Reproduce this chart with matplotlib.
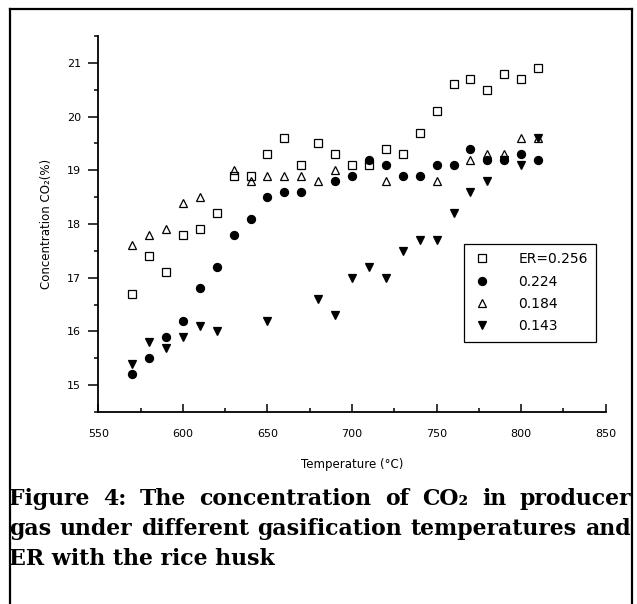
import numpy as np
import matplotlib
matplotlib.use("Agg")
import matplotlib.pyplot as plt
from matplotlib.lines import Line2D

# ER = 0.256 (open squares)
t_256 = [570, 580, 590, 600, 610, 620, 630, 640, 650, 660, 670, 680, 690,
         700, 710, 720, 730, 740, 750, 760, 770, 780, 790, 800, 810]
c_256 = [16.7, 17.4, 17.1, 17.8, 17.9, 18.2, 18.9, 18.9, 19.3, 19.6, 19.1, 19.5, 19.3,
         19.1, 19.1, 19.4, 19.3, 19.7, 20.1, 20.6, 20.7, 20.5, 20.8, 20.7, 20.9]

# ER = 0.224 (filled circles)
t_224 = [570, 580, 590, 600, 610, 620, 630, 640, 650, 660, 670, 690,
         700, 710, 720, 730, 740, 750, 760, 770, 780, 790, 800, 810]
c_224 = [15.2, 15.5, 15.9, 16.2, 16.8, 17.2, 17.8, 18.1, 18.5, 18.6, 18.6, 18.8,
         18.9, 19.2, 19.1, 18.9, 18.9, 19.1, 19.1, 19.4, 19.2, 19.2, 19.3, 19.2]

# ER = 0.184 (open triangles)
t_184 = [570, 580, 590, 600, 610, 630, 640, 650, 660, 670, 680, 690,
         720, 750, 770, 780, 790, 800, 810]
c_184 = [17.6, 17.8, 17.9, 18.4, 18.5, 19.0, 18.8, 18.9, 18.9, 18.9, 18.8, 19.0,
         18.8, 18.8, 19.2, 19.3, 19.3, 19.6, 19.6]

# ER = 0.143 (filled down triangles)
t_143 = [570, 580, 590, 600, 610, 620, 650, 680, 690, 700, 710, 720,
         730, 740, 750, 760, 770, 780, 790, 800, 810]
c_143 = [15.4, 15.8, 15.7, 15.9, 16.1, 16.0, 16.2, 16.6, 16.3, 17.0, 17.2, 17.0,
         17.5, 17.7, 17.7, 18.2, 18.6, 18.8, 19.2, 19.1, 19.6]

labels = ["ER=0.256", "0.224", "0.184", "0.143"]

caption_lines = ["Figure 4: The concentration of CO₂ in producer",
                 "gas under different gasification temperatures and",
                 "ER with the rice husk"]

sans = ["DejaVu Sans"]
serif = ["DejaVu Serif"]

W, H = 637, 604
fig = plt.figure(figsize=(W / 100, H / 100), dpi=100)
ax = fig.add_axes([0.1543, 0.3179, 0.7967, 0.6225])

ms = 5.8
mew = 0.9
ax.plot(t_256, c_256, "s", ms=ms - 0.3, mfc="none", mec="black", mew=mew, label=labels[0])
ax.plot(t_224, c_224, "o", ms=ms, mfc="black", mec="black", mew=mew, label=labels[1])
ax.plot(t_184, c_184, "^", ms=ms + 0.6, mfc="none", mec="black", mew=mew, label=labels[2])
ax.plot(t_143, c_143, "v", ms=ms + 0.6, mfc="black", mec="black", mew=mew, label=labels[3])

ax.set_xlim(550, 850)
ax.set_ylim(14.5, 21.5)
ax.set_xticks(np.arange(550, 851, 50))
ax.set_xticks(np.arange(575, 850, 50), minor=True)
ax.set_yticks(np.arange(15, 22, 1))
ax.set_yticks(np.arange(14.5, 21.6, 1), minor=True)

for s in ["top", "right"]:
    ax.spines[s].set_visible(False)
for s in ["left", "bottom"]:
    ax.spines[s].set_linewidth(1.3)

ax.tick_params(axis="x", which="major", direction="in", length=6, width=1.1, pad=12)
ax.tick_params(axis="x", which="minor", direction="in", length=3, width=1.1)
ax.tick_params(axis="y", which="major", direction="out", length=7.5, width=1.1, pad=5)
ax.tick_params(axis="y", which="minor", direction="out", length=3, width=1.1)

for lab in ax.get_xticklabels() + ax.get_yticklabels():
    lab.set_family(sans)
    lab.set_fontsize(8)

ax.set_xlabel("Temperature (°C)", family=sans, fontsize=8.5, labelpad=14)
ax.set_ylabel("Concentration CO₂(%)", family=sans, fontsize=8.5, labelpad=10)

leg = ax.legend(loc="upper left", bbox_to_anchor=(0.721, 0.447), borderaxespad=0,
                frameon=True, fancybox=False, edgecolor="black", framealpha=1,
                prop={"family": sans, "size": 10}, handletextpad=1.9,
                borderpad=0.6, labelspacing=0.6, handlelength=1.4)
leg.get_frame().set_linewidth(0.9)

# outer frame around the figure block
fig.add_artist(Line2D([0.0157, 0.0157], [0.0, 0.985], color="black", lw=1.6))
fig.add_artist(Line2D([0.0157, 0.992], [0.985, 0.985], color="black", lw=1.6))
fig.add_artist(Line2D([0.992, 0.992], [0.0, 0.985], color="black", lw=1.6))

# caption, justified between x0 and x1 (pixels), last line left aligned
renderer = fig.canvas.get_renderer()
x0, x1 = 9, 631
base0, step = 505, 30
cap_kw = dict(family=serif, fontsize=15.8, fontweight="bold", va="baseline", ha="left")
for i, line in enumerate(caption_lines):
    yb = 1 - (base0 + i * step) / H
    words = line.split(" ")
    if i == len(caption_lines) - 1:
        fig.text(x0 / W, yb, line, **cap_kw)
        continue
    txts = [fig.text(0, yb, w, **cap_kw) for w in words]
    widths = [t.get_window_extent(renderer).width for t in txts]
    gap = (x1 - x0 - sum(widths)) / (len(words) - 1)
    x = x0
    for t, w in zip(txts, widths):
        t.set_x(x / W)
        x += w + gap

fig.savefig("out.png", dpi=100)
